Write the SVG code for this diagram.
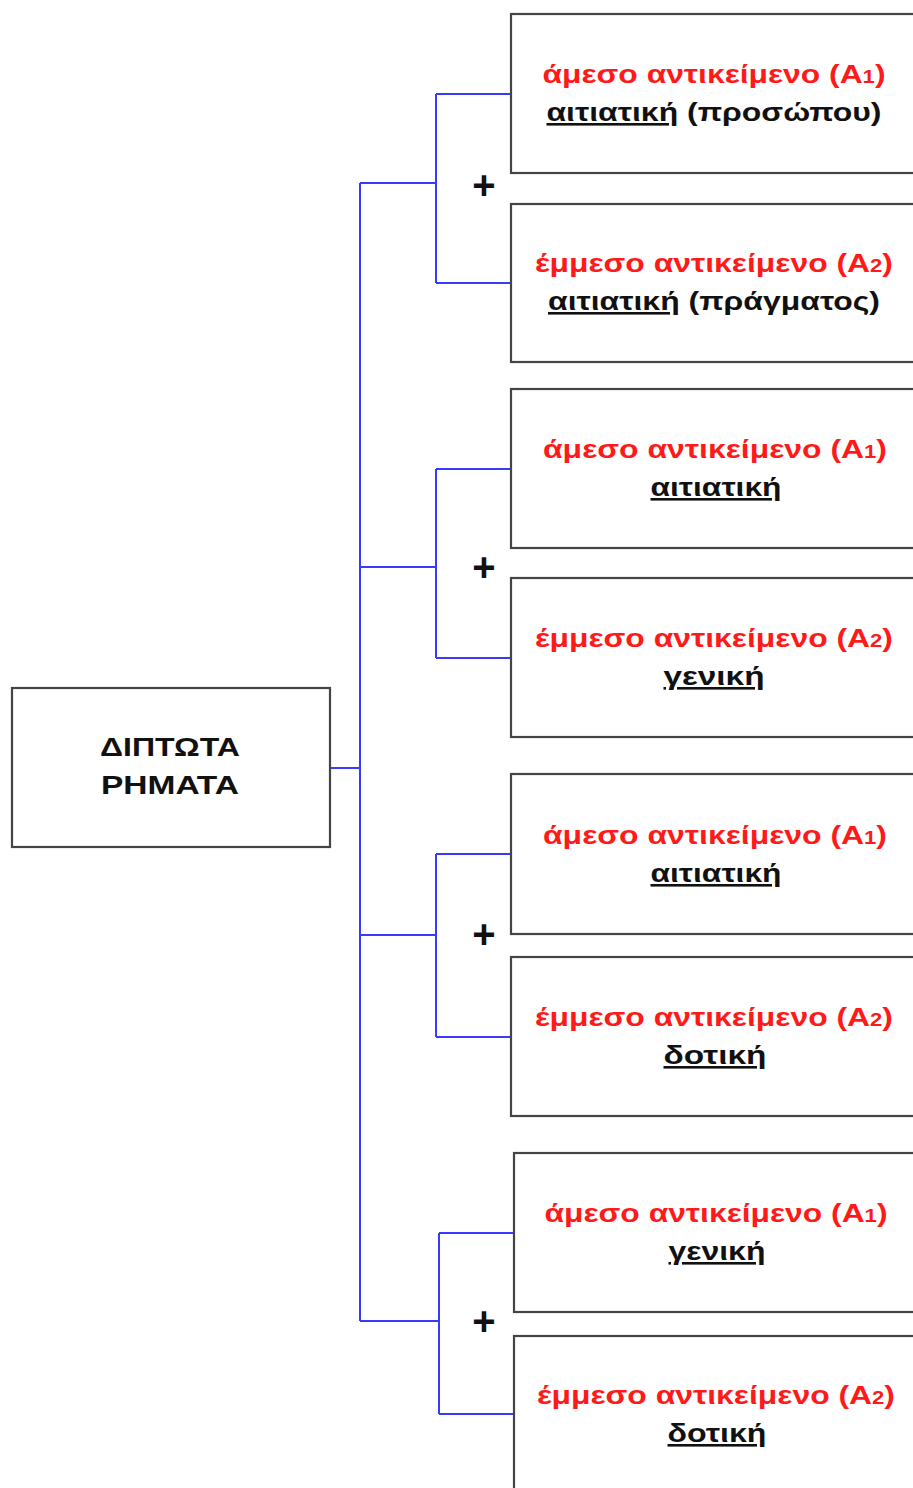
<svg xmlns="http://www.w3.org/2000/svg" width="913" height="1488" viewBox="0 0 913 1488">
<style>
.box{fill:#fff;stroke:#444;stroke-width:2.2}
.t{font-family:"Liberation Sans",Arial,sans-serif;font-weight:bold;font-size:26px;text-anchor:middle}
.r{fill:#ff1a1a}
.k{fill:#111}
.u{text-decoration:underline}
.c{fill:none;stroke:#3a3aff;stroke-width:2}
.p{font-family:"Liberation Sans",Arial,sans-serif;font-weight:bold;font-size:40px;text-anchor:middle;fill:#111}
</style>
<rect width="913" height="1488" fill="#fff"/>
<g id="connectors">
<path class="c" d="M330 768H360M360 183V1321"/>
<path class="c" d="M360 183H436M436 94V283M436 94H511M436 283H511"/>
<path class="c" d="M360 567H436M436 469V658M436 469H511M436 658H511"/>
<path class="c" d="M360 935H436M436 854V1037M436 854H511M436 1037H511"/>
<path class="c" d="M360 1321H439M439 1233V1414M439 1233H514M439 1414H514"/>
<text class="p" x="484" y="199">+</text>
<text class="p" x="484" y="581">+</text>
<text class="p" x="484" y="948">+</text>
<text class="p" x="484" y="1335">+</text>
</g>
<g id="root">
<rect class="box" x="12" y="688" width="318" height="159"/>
<text class="t k" x="170" y="756" textLength="140" lengthAdjust="spacingAndGlyphs">ΔΙΠΤΩΤΑ</text>
<text class="t k" x="170" y="794" textLength="138" lengthAdjust="spacingAndGlyphs">ΡΗΜΑΤΑ</text>
</g>
<g id="n1">
<rect class="box" x="511" y="14" width="430" height="159"/>
<text class="t r" x="714" y="83" textLength="343" lengthAdjust="spacingAndGlyphs">άμεσο αντικείμενο (Α<tspan font-size="18">1</tspan>)</text>
<text class="t k" x="714" y="121" textLength="335" lengthAdjust="spacingAndGlyphs"><tspan class="u">αιτιατική</tspan> (προσώπου)</text>
</g>
<g id="n2">
<rect class="box" x="511" y="204" width="430" height="158"/>
<text class="t r" x="714" y="272" textLength="358" lengthAdjust="spacingAndGlyphs">έμμεσο αντικείμενο (Α<tspan font-size="18">2</tspan>)</text>
<text class="t k" x="714" y="310" textLength="332" lengthAdjust="spacingAndGlyphs"><tspan class="u">αιτιατική</tspan> (πράγματος)</text>
</g>
<g id="n3">
<rect class="box" x="511" y="389" width="430" height="159"/>
<text class="t r" x="715" y="458" textLength="344" lengthAdjust="spacingAndGlyphs">άμεσο αντικείμενο (Α<tspan font-size="18">1</tspan>)</text>
<text class="t k u" x="716" y="496" textLength="131" lengthAdjust="spacingAndGlyphs">αιτιατική</text>
</g>
<g id="n4">
<rect class="box" x="511" y="578" width="430" height="159"/>
<text class="t r" x="714" y="647" textLength="358" lengthAdjust="spacingAndGlyphs">έμμεσο αντικείμενο (Α<tspan font-size="18">2</tspan>)</text>
<text class="t k u" x="714" y="685" textLength="101" lengthAdjust="spacingAndGlyphs">γενική</text>
</g>
<g id="n5">
<rect class="box" x="511" y="774" width="430" height="160"/>
<text class="t r" x="715" y="844" textLength="344" lengthAdjust="spacingAndGlyphs">άμεσο αντικείμενο (Α<tspan font-size="18">1</tspan>)</text>
<text class="t k u" x="716" y="882" textLength="131" lengthAdjust="spacingAndGlyphs">αιτιατική</text>
</g>
<g id="n6">
<rect class="box" x="511" y="957" width="430" height="159"/>
<text class="t r" x="714" y="1026" textLength="358" lengthAdjust="spacingAndGlyphs">έμμεσο αντικείμενο (Α<tspan font-size="18">2</tspan>)</text>
<text class="t k u" x="715" y="1064" textLength="103" lengthAdjust="spacingAndGlyphs">δοτική</text>
</g>
<g id="n7">
<rect class="box" x="514" y="1153" width="430" height="159"/>
<text class="t r" x="716" y="1222" textLength="343" lengthAdjust="spacingAndGlyphs">άμεσο αντικείμενο (Α<tspan font-size="18">1</tspan>)</text>
<text class="t k u" x="717" y="1260" textLength="97" lengthAdjust="spacingAndGlyphs">γενική</text>
</g>
<g id="n8">
<rect class="box" x="514" y="1336" width="430" height="159"/>
<text class="t r" x="716" y="1404" textLength="358" lengthAdjust="spacingAndGlyphs">έμμεσο αντικείμενο (Α<tspan font-size="18">2</tspan>)</text>
<text class="t k u" x="717" y="1442" textLength="99" lengthAdjust="spacingAndGlyphs">δοτική</text>
</g>
</svg>
